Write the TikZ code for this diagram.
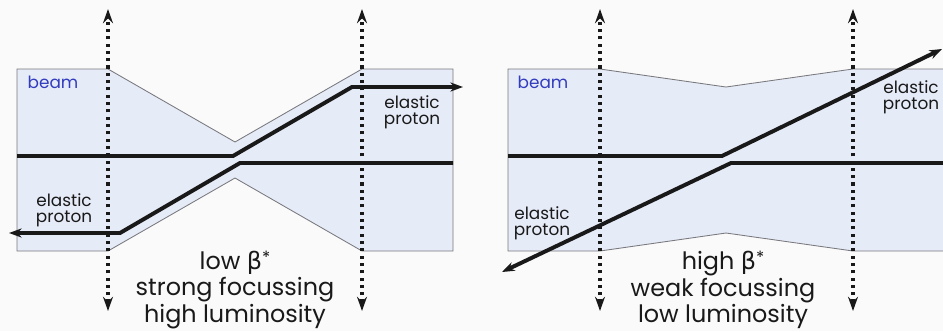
\documentclass[tikz,border=0pt]{standalone}
\usepackage{fontspec}
\setmainfont{Poppins}
\newfontfamily\grk{DejaVu Sans}
\usetikzlibrary{arrows.meta,positioning}
\definecolor{beamFill}{RGB}{230,235,248}
\definecolor{beamEdge}{RGB}{120,120,125}
\definecolor{beamBlue}{RGB}{50,60,190}
\definecolor{inkCS}{RGB}{25,25,25}
\definecolor{pageCS}{RGB}{250,250,250}
\newcommand{\betastar}{{\grk β}\raisebox{0.25em}{\fontsize{12}{12}\selectfont*}}

\begin{document}
\begin{tikzpicture}[x=0.025cm,y=-0.025cm,
        beam/.style={fill=beamFill,draw=beamEdge,line width=0.6pt,line join=miter},
        track/.style={line width=2.8pt,inkCS,line join=round},
        trackend/.style={track,-{Stealth[length=9pt,width=6.5pt]}},
        station/.style={line width=2.5pt,inkCS,dash pattern=on 2.2pt off 3pt,{Stealth[length=10pt,width=7pt]}-{Stealth[length=10pt,width=7pt]}},
        lbl/.style={font=\fontsize{12}{11.5}\selectfont,text=inkCS,align=center,inner sep=0pt},
        caption/.style={font=\fontsize{17}{19}\selectfont,text=inkCS,align=center,inner sep=0pt}
      ]
        \useasboundingbox (0,0) rectangle (943,331);
        \fill[pageCS] (0,0) rectangle (943,331);
        \clip (0,0) rectangle (943,331);
        % low beta*: strong focussing
        \draw[beam] (17,69) -- (108,69) -- (235,142) -- (362,69) -- (453,69) -- (453,251)
          -- (362,251) -- (235,178) -- (108,251) -- (17,251) -- cycle;
        \coordinate (la) at (17,156);
        \coordinate (lb) at (233,156);
        \coordinate (lc) at (352,87);
        \coordinate (ld) at (463,87);
        \coordinate (le) at (453,163);
        \coordinate (lf) at (240,163);
        \coordinate (lg) at (120,233);
        \coordinate (lh) at (9,233);
        \draw[trackend] (la) -- (lb) -- (lc) -- (ld);
        \draw[trackend] (le) -- (lf) -- (lg) -- (lh);
        \coordinate (s1t) at (108,9);
        \coordinate (s1b) at (108,311);
        \coordinate (s2t) at (362,9);
        \coordinate (s2b) at (362,311);
        \draw[station] (s1b) -- (s1t);
        \draw[station] (s2b) -- (s2t);
        \node[lbl,text=beamBlue] (beamL) at (53,82) {beam};
        \node[lbl] (protL1) at (412,112) {elastic\\proton};
        \node[lbl] (protL2) at (64,210) {elastic\\proton};
        \node[caption] (capL) at (235,290) {low \betastar\\strong focussing\\high luminosity};
        % high beta*: weak focussing
        \draw[beam] (508,69) -- (600,69) -- (726,87) -- (853,69) -- (960,69) -- (960,251)
          -- (853,251) -- (726,233) -- (600,251) -- (508,251) -- cycle;
        \coordinate (ra) at (508,156);
        \coordinate (rb) at (722,156);
        \coordinate (rc) at (942,49);
        \coordinate (rd) at (943,163);
        \coordinate (re) at (731,163);
        \coordinate (rf) at (502,272);
        \draw[trackend] (ra) -- (rb) -- (rc);
        \draw[trackend] (rd) -- (re) -- (rf);
        \coordinate (s3t) at (600,9);
        \coordinate (s3b) at (600,311);
        \coordinate (s4t) at (853,9);
        \coordinate (s4b) at (853,311);
        \draw[station] (s3b) -- (s3t);
        \draw[station] (s4b) -- (s4t);
        \node[lbl,text=beamBlue] (beamR) at (543,82) {beam};
        \node[lbl] (protR1) at (911,97) {elastic\\proton};
        \node[lbl] (protR2) at (542,223) {elastic\\proton};
        \node[caption] (capR) at (723,290) {high \betastar\\weak focussing\\low luminosity};
      \end{tikzpicture}
\end{document}
